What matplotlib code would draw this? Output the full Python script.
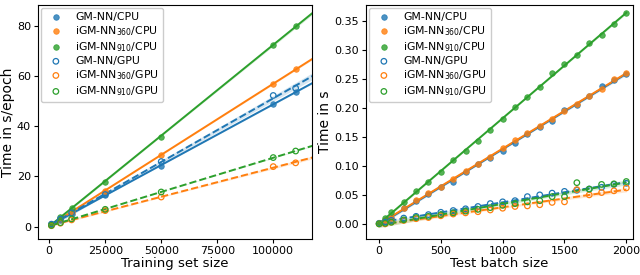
import numpy as np
import matplotlib
matplotlib.use("Agg")
import matplotlib.pyplot as plt
from matplotlib.ticker import FormatStrFormatter

# training time per epoch (s) vs training set size
train_sizes = [1000, 5000, 10000, 25000, 50000, 100000, 110000]
train_gm_cpu = [0.9, 2.7, 5.2, 12.6, 24.3, 48.8, 53.5]
train_i360_cpu = [1.0, 3.2, 6.0, 14.2, 28.5, 56.7, 62.8]
train_i910_cpu = [1.1, 4.0, 7.3, 17.9, 35.8, 72.3, 79.9]
train_gm_gpu = [1.0, 3.0, 5.5, 12.8, 25.9, 52.2, 55.1]
train_i360_gpu = [0.4, 1.4, 2.7, 6.4, 11.8, 23.9, 25.4]
train_i910_gpu = [0.5, 1.6, 3.1, 6.9, 13.8, 27.5, 30.1]

# inference time (s) vs test batch size
batch_sizes = [1, 50, 100, 200, 300, 400, 500, 600, 700, 800, 900, 1000,
               1100, 1200, 1300, 1400, 1500, 1600, 1700, 1800, 1900, 2000]
test_gm_cpu = [0.001, 0.005, 0.010, 0.028, 0.039, 0.051, 0.064, 0.073, 0.090, 0.104, 0.113,
               0.125, 0.140, 0.155, 0.167, 0.177, 0.197, 0.205, 0.220, 0.237, 0.247, 0.258]
test_i360_cpu = [0.001, 0.006, 0.010, 0.027, 0.041, 0.053, 0.064, 0.077, 0.091, 0.103, 0.115,
                 0.130, 0.145, 0.156, 0.169, 0.181, 0.194, 0.206, 0.220, 0.232, 0.250, 0.260]
test_i910_cpu = [0.001, 0.010, 0.020, 0.038, 0.056, 0.072, 0.089, 0.110, 0.126, 0.143, 0.162,
                 0.180, 0.201, 0.218, 0.235, 0.260, 0.275, 0.291, 0.311, 0.326, 0.345, 0.363]
test_gm_gpu = [0.001, 0.003, 0.006, 0.010, 0.013, 0.016, 0.020, 0.023, 0.026, 0.030, 0.035,
               0.038, 0.040, 0.047, 0.050, 0.053, 0.056, 0.058, 0.060, 0.063, 0.068, 0.070]
test_i360_gpu = [0.000, 0.000, 0.003, 0.006, 0.009, 0.011, 0.014, 0.017, 0.019, 0.021, 0.024,
                 0.027, 0.030, 0.031, 0.033, 0.037, 0.038, 0.059, 0.050, 0.054, 0.057, 0.062]
test_i910_gpu = [0.000, 0.001, 0.003, 0.007, 0.011, 0.013, 0.016, 0.019, 0.022, 0.025, 0.028,
                 0.032, 0.035, 0.038, 0.040, 0.047, 0.047, 0.071, 0.060, 0.068, 0.069, 0.073]

labels = ['GM-NN/CPU', 'iGM-NN$_{360}$/CPU', 'iGM-NN$_{910}$/CPU',
          'GM-NN/GPU', 'iGM-NN$_{360}$/GPU', 'iGM-NN$_{910}$/GPU']
colors = ['#1f77b4', '#ff7f0e', '#2ca02c']


def reg_plot(ax, x, y, color, gpu, label, x_end):
    x = np.asarray(x, float)
    y = np.asarray(y, float)
    # linear fit + 95% band of the mean
    b, a = np.polyfit(x, y, 1)
    n = len(x)
    resid = y - (a + b * x)
    s = np.sqrt(np.sum(resid ** 2) / (n - 2))
    xg = np.linspace(x.min(), x_end, 200)
    se = s * np.sqrt(1.0 / n + (xg - x.mean()) ** 2 / np.sum((x - x.mean()) ** 2))
    yg = a + b * xg
    ax.fill_between(xg, yg - 2.5 * se, yg + 2.5 * se, color=color, alpha=0.18, lw=0)
    ax.plot(xg, yg, color=color, lw=1.4, ls='--' if gpu else '-')
    if gpu:
        ax.scatter(x, y, s=16, facecolors='none', edgecolors=color, linewidths=0.9,
                   label=label, zorder=3)
    else:
        ax.scatter(x, y, s=16, color=color, alpha=0.8, edgecolors=color, linewidths=0.6,
                   label=label, zorder=3)


fig = plt.figure(figsize=(6.4, 2.75), dpi=100)
ax1 = fig.add_axes([38 / 640, 36 / 275, 274 / 640, 234 / 275])
ax2 = fig.add_axes([366 / 640, 36 / 275, 267 / 640, 234 / 275])

left = [train_gm_cpu, train_i360_cpu, train_i910_cpu, train_gm_gpu, train_i360_gpu, train_i910_gpu]
right = [test_gm_cpu, test_i360_cpu, test_i910_cpu, test_gm_gpu, test_i360_gpu, test_i910_gpu]

for i in range(6):
    reg_plot(ax1, train_sizes, left[i], colors[i % 3], i >= 3, labels[i], 125000)
    reg_plot(ax2, batch_sizes, right[i], colors[i % 3], i >= 3, labels[i], 2000)

ax1.set_xlim(-5000, 117300)
ax1.set_ylim(-4.9, 88.2)
ax1.set_xticks([0, 25000, 50000, 75000, 100000])
ax1.set_yticks([0, 20, 40, 60, 80])
ax1.set_xlabel('Training set size', fontsize=9.5, labelpad=1)
ax1.set_ylabel('Time in s/epoch', fontsize=10, labelpad=1.5)

ax2.set_xlim(-105, 2054)
ax2.set_ylim(-0.026, 0.377)
ax2.set_xticks([0, 500, 1000, 1500, 2000])
ax2.set_yticks(np.arange(0, 0.36, 0.05))
ax2.yaxis.set_major_formatter(FormatStrFormatter('%.2f'))
ax2.set_xlabel('Test batch size', fontsize=9.5, labelpad=1)
ax2.set_ylabel('Time in s', fontsize=10, labelpad=1.5)

for ax in (ax1, ax2):
    ax.tick_params(labelsize=8, length=3, pad=2)
    ax.legend(loc='upper left', fontsize=7.8, borderaxespad=0.3, borderpad=0.35,
              handletextpad=0.8, labelspacing=0.2, framealpha=1, edgecolor='#cccccc')

fig.savefig('out.png', dpi=100)
